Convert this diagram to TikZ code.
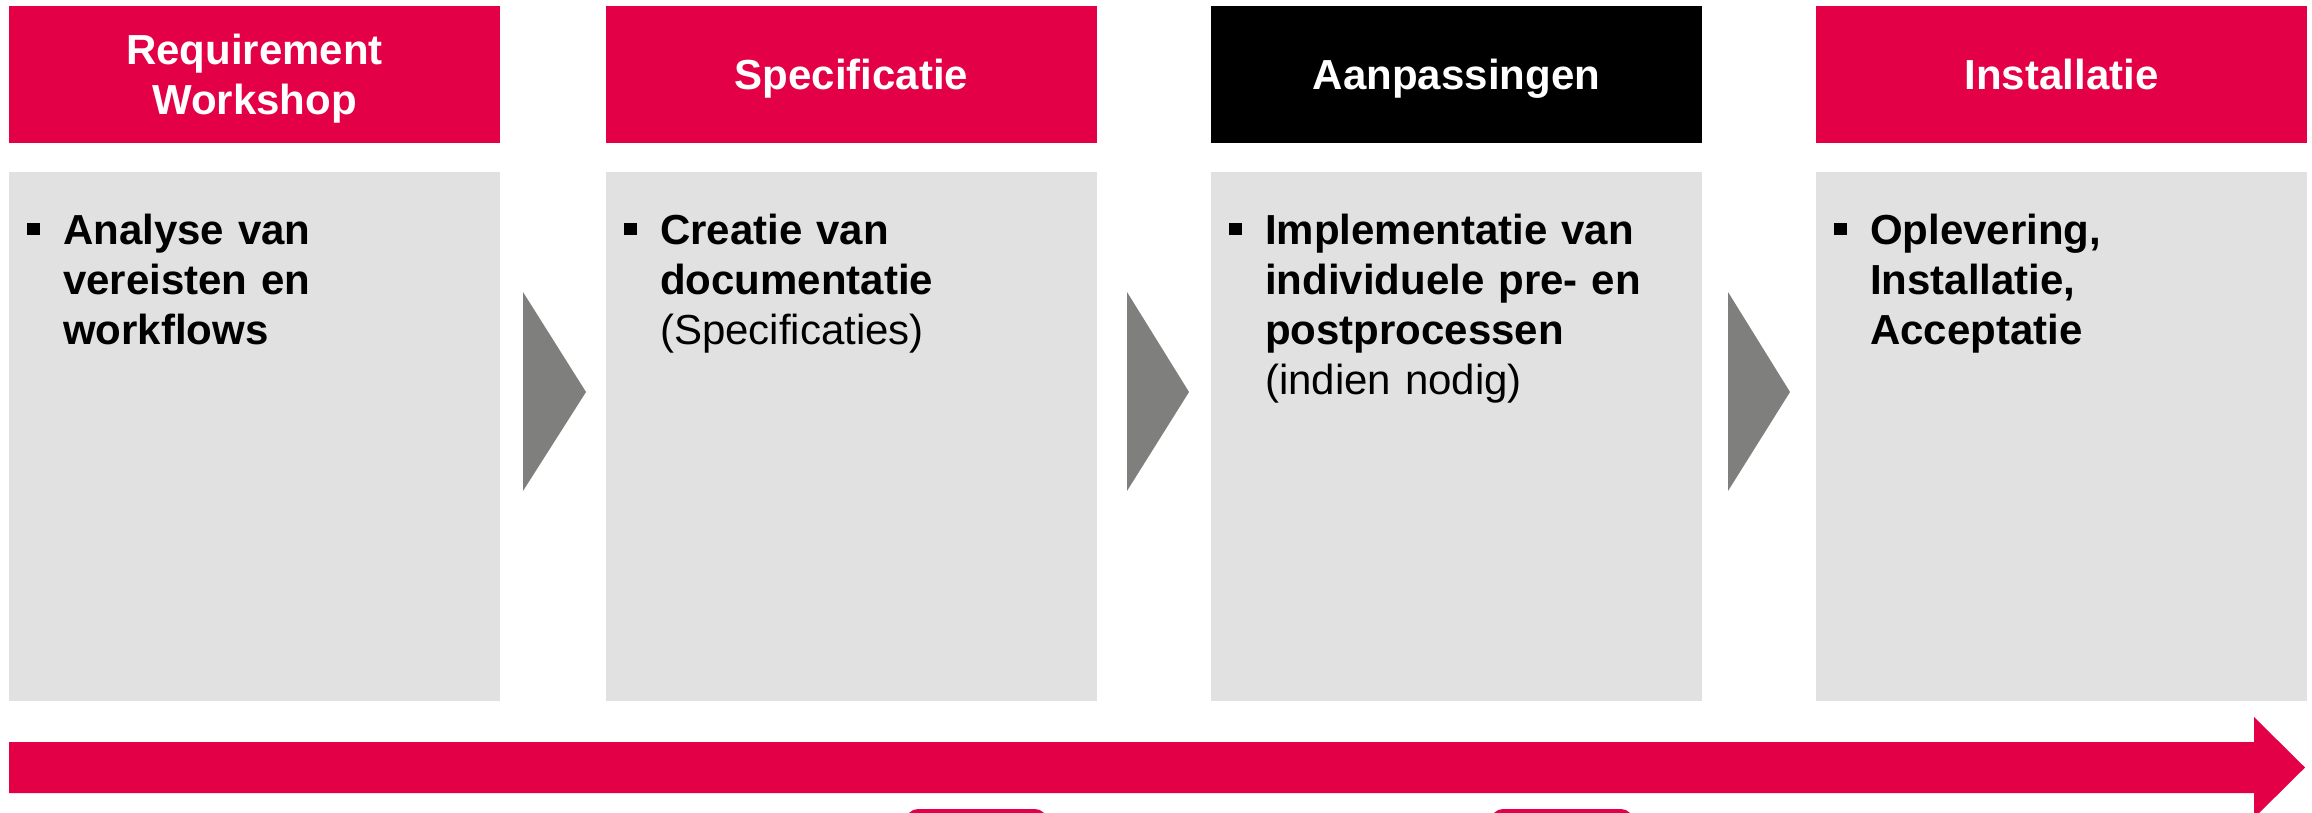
\documentclass[tikz,border=0pt]{standalone}
\usepackage{fontspec}
\setmainfont{Liberation Sans}
\definecolor{accred}{RGB}{228,0,70}
\definecolor{boxgray}{RGB}{225,225,225}
\definecolor{trigray}{RGB}{127,127,125}
\begin{document}
\begin{tikzpicture}[x=1pt,y=-1pt,
  header/.style={fill=accred, minimum width=491pt, minimum height=137pt, inner sep=0pt, anchor=north west},
  blackheader/.style={header, fill=black},
  headtext/.style={anchor=base, inner sep=0pt, text width=491pt, align=center, text=white, font=\fontsize{42}{50}\selectfont\bfseries},
  body/.style={fill=boxgray, minimum width=491pt, minimum height=529pt, inner sep=0pt, anchor=north west},
  bodytext/.style={anchor=base west, inner sep=0pt, text width=430pt, align=left, font=\fontsize{42}{50}\selectfont},
  bulletsq/.style={fill=black, minimum size=12.5pt, inner sep=0pt},
  chevron/.style={fill=trigray},
  bigarrow/.style={fill=accred}
]
\useasboundingbox (0,0) rectangle (2312,813);
\clip (0,0) rectangle (2312,813);
% headers
\node[header] (h1) at (9,6) {};
\node[header] (h2) at (606,6) {};
\node[blackheader] (h3) at (1211,6) {};
\node[header] (h4) at (1816,6) {};
\node[headtext] (ht1) at (254.5,65) {Requirement\\Workshop};
\node[headtext] (ht2) at (851.5,90) {Specificatie};
\node[headtext] (ht3) at (1456.5,90) {Aanpassingen};
\node[headtext] (ht4) at (2061.5,90) {Installatie};
% body boxes
\node[body] (b1) at (9,172) {};
\node[body] (b2) at (606,172) {};
\node[body] (b3) at (1211,172) {};
\node[body] (b4) at (1816,172) {};
% bullets
\node[bulletsq] (bl1) at (33.5,229) {};
\node[bulletsq] (bl2) at (630.5,229) {};
\node[bulletsq] (bl3) at (1235.5,229) {};
\node[bulletsq] (bl4) at (1840.5,229) {};
% texts
\node[bodytext] (t1) at (63,244) {\textbf{Analyse van}\\\textbf{vereisten en}\\\textbf{workflows}};
\node[bodytext] (t2) at (660,244) {\textbf{Creatie van}\\\textbf{documentatie}\\(Specificaties)};
\node[bodytext] (t3) at (1265,244) {\textbf{Implementatie van}\\\textbf{individuele pre- en}\\\textbf{postprocessen}\\(indien nodig)};
\node[bodytext] (t4) at (1870,244) {\textbf{Oplevering,}\\\textbf{Installatie,}\\\textbf{Acceptatie}};
% chevrons
\fill[chevron] (523,292) -- (586,392) -- (523,491) -- cycle;
\fill[chevron] (1127,292) -- (1189,392) -- (1127,491) -- cycle;
\fill[chevron] (1728,292) -- (1790,392) -- (1728,491) -- cycle;
% big arrow
\fill[bigarrow] (9,742) -- (2254,742) -- (2254,717) -- (2305,767.5) -- (2254,818) -- (2254,793) -- (9,793) -- cycle;
% partly visible shapes at bottom
\fill[accred, rounded corners=12pt] (906,809) rectangle (1047,850);
\fill[accred, rounded corners=12pt] (1491,809) rectangle (1633,850);
\end{tikzpicture}
\end{document}
